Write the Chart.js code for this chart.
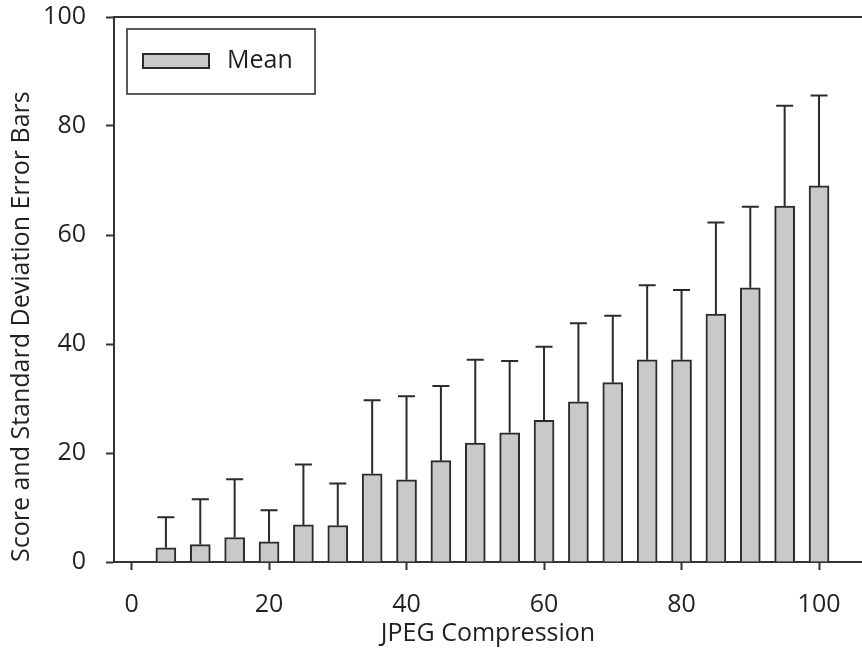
<!DOCTYPE html>
<html>
<head>
<meta charset="utf-8">
<script src="https://cdn.jsdelivr.net/npm/chart.js@4/dist/chart.umd.min.js"></script>
<style>
  html, body { margin: 0; padding: 0; background: #ffffff; }
  #wrap { width: 862px; height: 655px; position: relative; }
</style>
</head>
<body>
<div id="wrap"><canvas id="c" width="862" height="655"></canvas></div>
<script>
// ---- data ----
const compression = [5, 10, 15, 20, 25, 30, 35, 40, 45, 50, 55, 60, 65, 70, 75, 80, 85, 90, 95, 100];
const meanScore   = [2.6, 3.2, 4.5, 3.7, 6.8, 6.7, 16.2, 15.1, 18.6, 21.8, 23.7, 26.0, 29.4, 32.9, 37.1, 37.1, 45.5, 50.3, 65.3, 69.0];
const upperError  = [8.2, 11.5, 15.2, 9.5, 17.9, 14.4, 29.7, 30.4, 32.3, 37.1, 36.9, 39.5, 43.8, 45.2, 50.8, 49.9, 62.3, 65.2, 83.7, 85.6];
const yTicks = [0, 20, 40, 60, 80, 100];
const xTicks = [0, 20, 40, 60, 80, 100];
const seriesLabel = 'Mean';
const xTitle = 'JPEG Compression';
const yTitle = 'Score and Standard Deviation Error Bars';

const FONT = "'Open Sans', 'Noto Sans', sans-serif";
const TEXT = '#231f20';
const LINE = '#333333';
const BAR_FILL = '#c8c9cb';
const BAR_EDGE = '#2b2b2b';

const points = compression.map((x, i) => ({ x: x, y: meanScore[i] }));

const errorBars = {
  id: 'errorBars',
  afterDatasetsDraw(chart) {
    const ctx = chart.ctx;
    const ys = chart.scales.y;
    const meta = chart.getDatasetMeta(0);
    ctx.save();
    ctx.strokeStyle = BAR_EDGE;
    ctx.lineWidth = 2;
    meta.data.forEach((el, i) => {
      const top = ys.getPixelForValue(upperError[i]);
      ctx.beginPath();
      ctx.moveTo(el.x, el.y);
      ctx.lineTo(el.x, top);
      ctx.moveTo(el.x - 8.5, top);
      ctx.lineTo(el.x + 8.5, top);
      ctx.stroke();
    });
    ctx.restore();
  }
};

const frameAndLegend = {
  id: 'frameAndLegend',
  afterDraw(chart) {
    const ctx = chart.ctx;
    const a = chart.chartArea;
    ctx.save();
    // top frame line
    ctx.strokeStyle = LINE;
    ctx.lineWidth = 2;
    ctx.beginPath();
    ctx.moveTo(a.left, a.top);
    ctx.lineTo(a.right, a.top);
    ctx.stroke();
    // legend box
    const lx = a.left + 13, ly = a.top + 12, lw = 188, lh = 65;
    ctx.lineWidth = 1.6;
    ctx.strokeRect(lx, ly, lw, lh);
    const ds = chart.data.datasets[0];
    ctx.fillStyle = ds.backgroundColor;
    ctx.fillRect(lx + 15, ly + 24, 68, 16);
    ctx.strokeStyle = ds.borderColor;
    ctx.lineWidth = 2;
    ctx.strokeRect(lx + 16, ly + 25, 66, 14);
    ctx.fillStyle = TEXT;
    ctx.font = "25px " + FONT;
    ctx.textBaseline = 'middle';
    ctx.textAlign = 'left';
    ctx.fillText(ds.label, lx + 100, ly + 32);
    ctx.restore();
  }
};

new Chart(document.getElementById('c'), {
  type: 'bar',
  data: {
    datasets: [{
      label: seriesLabel,
      data: points,
      backgroundColor: BAR_FILL,
      borderColor: BAR_EDGE,
      borderWidth: 2,
      barThickness: 20
    }]
  },
  options: {
    responsive: false,
    animation: false,
    devicePixelRatio: 1,
    layout: { padding: { top: 0, right: 0, bottom: 0, left: 0 } },
    plugins: {
      legend: { display: false },
      tooltip: { enabled: false }
    },
    scales: {
      x: {
        type: 'linear',
        offset: false,
        min: -2.55,
        max: 106.25,
        afterFit(s) { s.height = 93; s.paddingLeft = 0; s.paddingRight = 0; },
        afterBuildTicks(s) { s.ticks = xTicks.map(v => ({ value: v })); },
        ticks: {
          includeBounds: false,
          color: TEXT,
          font: { family: FONT, size: 25 },
          padding: 20,
          maxRotation: 0
        },
        grid: {
          offset: false,
          drawOnChartArea: false,
          drawTicks: true,
          tickLength: 8,
          tickWidth: 2,
          tickColor: LINE
        },
        border: { display: true, color: LINE, width: 2 },
        title: {
          display: true,
          text: xTitle,
          color: TEXT,
          font: { family: FONT, size: 25 },
          padding: { top: 0, bottom: 6 }
        }
      },
      y: {
        min: 0,
        max: 100,
        afterFit(s) { s.width = 114; s.paddingTop = 17; s.paddingBottom = 0; },
        afterBuildTicks(s) { s.ticks = yTicks.map(v => ({ value: v })); },
        ticks: {
          color: TEXT,
          font: { family: FONT, size: 25 },
          padding: 20
        },
        grid: {
          drawOnChartArea: false,
          drawTicks: true,
          tickLength: 8,
          tickWidth: 2,
          tickColor: LINE
        },
        border: { display: true, color: LINE, width: 2 },
        title: {
          display: true,
          text: yTitle,
          align: 'start',
          color: TEXT,
          font: { family: FONT, size: 25 },
          padding: { top: 7, bottom: 0 }
        }
      }
    }
  },
  plugins: [errorBars, frameAndLegend]
});
</script>
</body>
</html>
